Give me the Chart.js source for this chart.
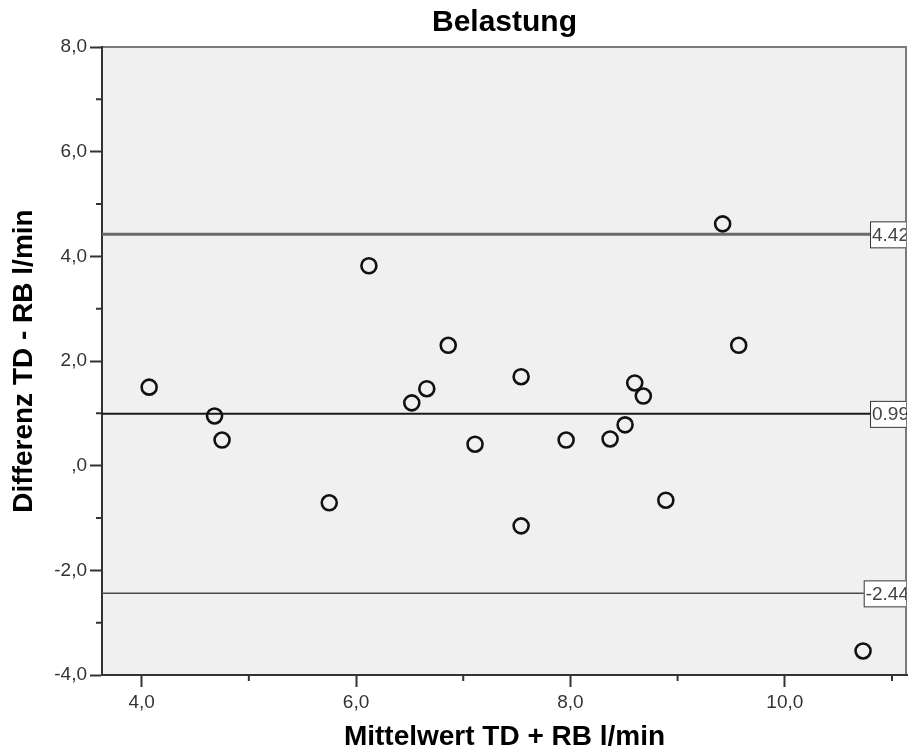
<!DOCTYPE html>
<html>
<head>
<meta charset="utf-8">
<script src="https://cdn.jsdelivr.net/npm/chart.js@4"></script>
<style>
  html, body { margin: 0; padding: 0; background: #fff; }
  #wrap { width: 910px; height: 756px; }
</style>
</head>
<body>
<div id="wrap"><canvas id="baChart" width="910" height="756"></canvas></div>
<script>
// Mittelwert (TD + RB) / 2 und Differenz (TD - RB), l/min
const meanValues = [4.07, 4.68, 4.75, 5.75, 6.12, 6.52, 6.66, 6.86, 7.11, 7.54,
                    7.54, 7.96, 8.37, 8.51, 8.60, 8.68, 8.89, 9.42, 9.57, 10.73];
const diffValues = [1.50, 0.95, 0.49, -0.71, 3.82, 1.20, 1.47, 2.30, 0.41, 1.70,
                    -1.15, 0.49, 0.51, 0.78, 1.58, 1.33, -0.66, 4.62, 2.30, -3.54];

const meanDiff = 0.99;
const upperLoA = 4.42;
const lowerLoA = -2.44;

const xMin = 3.63, xMax = 11.14;
const yMin = -4, yMax = 8;
const xTickValues = [4, 6, 8, 10];
const xMinorTicks = [5, 7, 9, 11];
const yMinorTicks = [-3, -1, 1, 3, 5, 7];

const FONT = '"Liberation Sans", Arial, sans-serif';
const fmt = v => (v === 0 ? ',0' : v.toFixed(1).replace('.', ','));

const hLine = (y, color, width) => ({
    type: 'line',
    data: [{ x: xMin, y: y }, { x: xMax, y: y }],
    borderColor: color,
    borderWidth: width,
    pointRadius: 0,
    order: 2
});

// grey plot area + frame on top/right
const plotBackground = {
    id: 'plotBackground',
    beforeDraw(chart) {
        const { ctx, chartArea: a } = chart;
        ctx.save();
        ctx.fillStyle = '#f0f0f0';
        ctx.fillRect(a.left, a.top, a.right - a.left, a.bottom - a.top);
        ctx.strokeStyle = '#7a7a7a';
        ctx.lineWidth = 2;
        ctx.beginPath();
        ctx.moveTo(a.left, a.top);
        ctx.lineTo(a.right - 1, a.top);
        ctx.lineTo(a.right - 1, a.bottom);
        ctx.stroke();
        ctx.restore();
    }
};

// short minor ticks outside the axes
const minorTicks = {
    id: 'minorTicks',
    afterDraw(chart) {
        const { ctx, chartArea: a, scales } = chart;
        ctx.save();
        ctx.strokeStyle = '#333';
        ctx.lineWidth = 2;
        ctx.beginPath();
        xMinorTicks.forEach(v => {
            const px = scales.x.getPixelForValue(v);
            ctx.moveTo(px, a.bottom);
            ctx.lineTo(px, a.bottom + 6);
        });
        yMinorTicks.forEach(v => {
            const py = scales.y.getPixelForValue(v);
            ctx.moveTo(a.left, py);
            ctx.lineTo(a.left - 6, py);
        });
        ctx.stroke();
        ctx.restore();
    }
};

// boxed value labels at the right end of the reference lines
const lineLabels = {
    id: 'lineLabels',
    afterDatasetsDraw(chart) {
        const { ctx, chartArea: a, scales } = chart;
        ctx.save();
        ctx.beginPath();
        ctx.rect(a.left, a.top, a.right - a.left - 1, a.bottom - a.top);
        ctx.clip();
        ctx.font = '19px ' + FONT;
        ctx.textBaseline = 'middle';
        [upperLoA, meanDiff, lowerLoA].forEach(v => {
            const txt = v.toFixed(2);
            const py = scales.y.getPixelForValue(v);
            const w = ctx.measureText(txt).width;
            const left = a.right - w;
            ctx.fillStyle = '#fff';
            ctx.fillRect(left, py - 13, w + 6, 27);
            ctx.strokeStyle = '#333';
            ctx.lineWidth = 1;
            ctx.strokeRect(left + 0.5, py - 12.5, w + 6, 26);
            ctx.fillStyle = '#444';
            ctx.fillText(txt, left + 2, py + 1);
        });
        ctx.restore();
    }
};

const ctx = document.getElementById('baChart').getContext('2d');
new Chart(ctx, {
    type: 'scatter',
    data: {
        datasets: [
            {
                label: 'Differenz',
                data: meanValues.map((m, i) => ({ x: m, y: diffValues[i] })),
                pointRadius: 7.5,
                pointBorderWidth: 2.6,
                pointBorderColor: '#111',
                pointBackgroundColor: 'rgba(0,0,0,0)',
                order: 1
            },
            hLine(upperLoA, '#6a6a6a', 3),
            hLine(meanDiff, '#1a1a1a', 2),
            hLine(lowerLoA, '#4a4a4a', 1.5)
        ]
    },
    options: {
        responsive: false,
        animation: false,
        layout: { autoPadding: false, padding: { left: 0, right: 3, top: 0, bottom: 0 } },
        plugins: {
            legend: { display: false },
            tooltip: { enabled: false },
            title: {
                display: true,
                text: 'Belastung',
                fullSize: false,
                color: '#000',
                font: { family: FONT, size: 30, weight: 'bold' },
                padding: { top: 5, bottom: 6 }
            }
        },
        scales: {
            x: {
                type: 'linear',
                min: xMin,
                max: xMax,
                afterBuildTicks: scale => { scale.ticks = xTickValues.map(v => ({ value: v })); },
                afterFit: scale => { scale.height = 81; },
                ticks: {
                    callback: v => fmt(v),
                    color: '#333',
                    padding: 4,
                    maxRotation: 0,
                    font: { family: FONT, size: 19 }
                },
                grid: {
                    drawOnChartArea: false,
                    tickLength: 12,
                    tickWidth: 2,
                    tickColor: '#333'
                },
                border: { display: true, color: '#333', width: 2 },
                title: {
                    display: true,
                    text: 'Mittelwert TD + RB l/min',
                    color: '#000',
                    font: { family: FONT, size: 28, weight: 'bold' },
                    padding: { top: 0, bottom: 2 }
                }
            },
            y: {
                type: 'linear',
                min: yMin,
                max: yMax,
                afterFit: scale => { scale.width = 102; },
                ticks: {
                    stepSize: 2,
                    callback: v => fmt(v),
                    color: '#333',
                    padding: 3,
                    font: { family: FONT, size: 19 }
                },
                grid: {
                    drawOnChartArea: false,
                    tickLength: 12,
                    tickWidth: 2,
                    tickColor: '#333'
                },
                border: { display: true, color: '#333', width: 2 },
                title: {
                    display: true,
                    text: 'Differenz TD - RB l/min',
                    color: '#000',
                    font: { family: FONT, size: 28, weight: 'bold' },
                    padding: { top: 7, bottom: 0 }
                }
            }
        }
    },
    plugins: [plotBackground, minorTicks, lineLabels]
});
</script>
</body>
</html>
